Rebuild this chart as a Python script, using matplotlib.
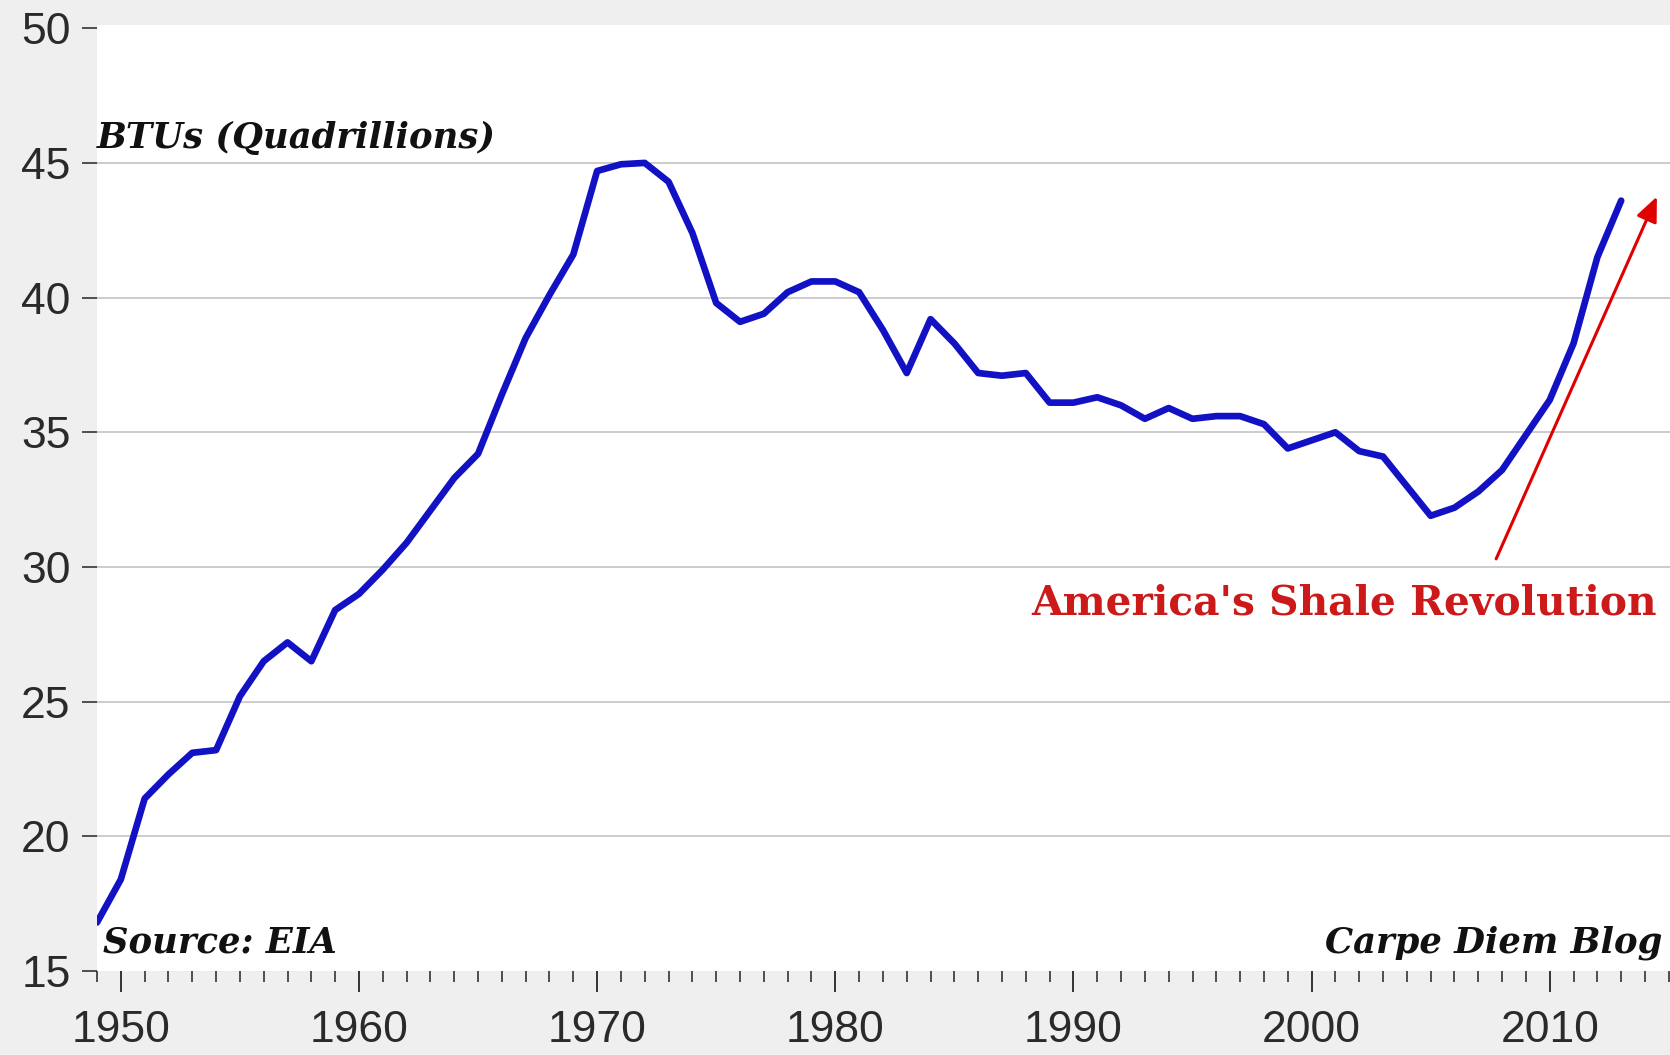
import matplotlib.pyplot as plt
from matplotlib.ticker import MultipleLocator

years = list(range(1949, 2014))
production = [
    16.8, 18.4, 21.4, 22.3, 23.1, 23.2, 25.2, 26.5, 27.2, 26.5,  # 1949-1958
    28.4, 29.0, 29.9, 30.9, 32.1, 33.3, 34.2, 36.4, 38.5, 40.1,  # 1959-1968
    41.6, 44.7, 44.95, 45.0, 44.3, 42.4, 39.8, 39.1, 39.4, 40.2,  # 1969-1978
    40.6, 40.6, 40.2, 38.8, 37.2, 39.2, 38.3, 37.2, 37.1, 37.2,  # 1979-1988
    36.1, 36.1, 36.3, 36.0, 35.5, 35.9, 35.5, 35.6, 35.6, 35.3,  # 1989-1998
    34.4, 34.7, 35.0, 34.3, 34.1, 33.0, 31.9, 32.2, 32.8, 33.6,  # 1999-2008
    34.9, 36.2, 38.3, 41.5, 43.6,  # 2009-2013
]
y_ticks = [15, 20, 25, 30, 35, 40, 45, 50]
x_ticks = [1950, 1960, 1970, 1980, 1990, 2000, 2010]

fig = plt.figure(figsize=(16.7, 10.55), dpi=100)
fig.patch.set_facecolor("#efefef")
ax = fig.add_axes([97 / 1670, 1 - 971 / 1055, 1 - 97 / 1670, (971 - 25) / 1055])
ax.set_facecolor("white")

ax.plot(years, production, color="#1212c4", lw=4.8, solid_joinstyle="round",
        solid_capstyle="round", zorder=3)

ax.set_xlim(1949, 2015.05)
ax.set_ylim(15, 50.12)

for side in ["top", "right", "left", "bottom"]:
    ax.spines[side].set_visible(False)

ax.set_yticks(y_ticks)
ax.set_xticks(x_ticks)
ax.xaxis.set_minor_locator(MultipleLocator(1))
ax.tick_params(axis="y", direction="out", length=11, width=1.2, pad=8,
               labelsize=32, labelcolor="#2a2a2a", color="#333333")
ax.tick_params(axis="x", which="major", direction="out", length=15, width=1.4,
               pad=13, labelsize=32, labelcolor="#2a2a2a", color="#333333")
ax.tick_params(axis="x", which="minor", direction="out", length=8, width=1.2,
               color="#333333")
for lab in ax.get_xticklabels() + ax.get_yticklabels():
    lab.set_fontfamily("Liberation Sans")

ax.yaxis.grid(True, color="#c8c8c8", lw=1.3)
ax.set_axisbelow(True)
for line, val in zip(ax.yaxis.get_gridlines(), y_ticks):
    if val in (15, 50):
        line.set_visible(False)

serif_bi = dict(family="DejaVu Serif", weight="bold", style="italic",
                color="#111111", fontsize=25.5)
ax.text(1949.0, 45.55, "BTUs (Quadrillions)", ha="left", va="baseline", **serif_bi)
ax.text(1949.25, 15.7, "Source: EIA", ha="left", va="baseline", **serif_bi)
ax.text(2014.75, 15.7, "Carpe Diem Blog", ha="right", va="baseline", **serif_bi)

ax.text(2014.5, 28.25, "America's Shale Revolution", ha="right", va="baseline",
        family="DejaVu Serif", weight="bold", fontsize=29.3, color="#cc1a1a")

ax.annotate("", xy=(2014.5, 43.75), xytext=(2007.75, 30.3),
            arrowprops=dict(arrowstyle="-|>,head_length=1.5,head_width=0.65",
                            color="#e00000", lw=2.2, shrinkA=0, shrinkB=0))

fig.savefig("out.png", dpi=100, facecolor=fig.get_facecolor())
